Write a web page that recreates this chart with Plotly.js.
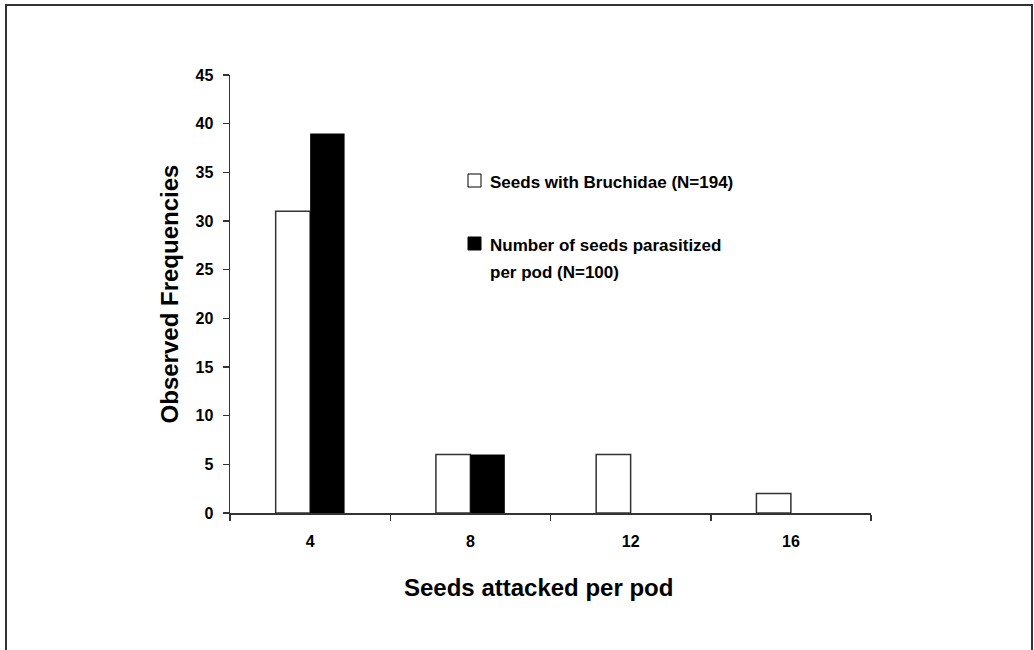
<!DOCTYPE html>
<html>
<head>
<meta charset="utf-8">
<script src="https://cdn.plot.ly/plotly-3.0.1.min.js"></script>
<style>html,body{margin:0;padding:0;background:#fff;}#chart{width:1034px;height:650px;}</style>
</head>
<body>
<div id="chart"></div>
<script>
var categories = ["4", "8", "12", "16"];
var seriesWhiteName = "Seeds with Bruchidae (N=194)";
var seriesWhite = [31, 6, 6, 2];
var seriesBlackNameLines = ["Number of seeds parasitized", "per pod (N=100)"];
var seriesBlack = [39, 6, 0, 0];
var yTicks = [0, 5, 10, 15, 20, 25, 30, 35, 40, 45];
var xTitle = "Seeds attacked per pod";
var yTitle = "Observed Frequencies";

var FONT = "Liberation Sans, Arial, sans-serif";
var LINE = "#333333";

var traces = [
  {type: "bar", x: categories, y: seriesWhite, name: seriesWhiteName,
   marker: {color: "#ffffff", line: {color: LINE, width: 1.5}}},
  {type: "bar", x: categories, y: seriesBlack, name: seriesBlackNameLines.join(" "),
   marker: {color: "#000000", line: {color: "#000000", width: 0}}}
];

// plot area: x 230..871, y 75..513
var W = 1034, H = 650, L = 230, R = 871, T = 75, B = 513;
function px(x){ return (x - L) / (R - L); }
function py(y){ return (B - y) / (B - T); }

var legFont = {family: FONT, size: 17, color: "#000", weight: "bold"};

var layout = {
  width: W, height: H,
  margin: {l: L, r: W - R, t: T, b: H - B, pad: 0},
  paper_bgcolor: "#ffffff", plot_bgcolor: "#ffffff",
  showlegend: false,
  barmode: "group", bargap: 0.57, bargroupgap: 0,
  font: {family: FONT, color: "#000"},
  xaxis: {
    type: "category", range: [-0.5, 3.5], tickson: "boundaries",
    ticks: "outside", ticklen: 6, tickwidth: 1.5, tickcolor: LINE,
    ticklabelstandoff: 13,
    showline: true, linecolor: LINE, linewidth: 1.5, showgrid: false, zeroline: false,
    tickfont: {family: FONT, size: 16, color: "#000", weight: "bold"}
  },
  yaxis: {
    range: [0, 45], tickvals: yTicks, ticktext: yTicks.map(String),
    ticks: "outside", ticklen: 6, tickwidth: 1.5, tickcolor: LINE,
    ticklabelstandoff: 6,
    showline: true, linecolor: LINE, linewidth: 1.5, showgrid: false, zeroline: false,
    tickfont: {family: FONT, size: 16, color: "#000", weight: "bold"},
    title: {text: yTitle, standoff: 10,
            font: {family: FONT, size: 24, color: "#000", weight: "bold"}}
  },
  shapes: [
    {type: "rect", xref: "paper", yref: "paper", x0: px(6), x1: px(1032), y0: py(670), y1: py(5),
     line: {color: "#333", width: 2}, fillcolor: "rgba(0,0,0,0)", layer: "below"},
    {type: "rect", xref: "paper", yref: "paper", x0: px(468), x1: px(481), y0: py(187), y1: py(174),
     line: {color: "#000", width: 1}, fillcolor: "#fff"},
    {type: "rect", xref: "paper", yref: "paper", x0: px(468), x1: px(481), y0: py(250), y1: py(237),
     line: {color: "#000", width: 1}, fillcolor: "#000"}
  ],
  annotations: [
    {xref: "paper", yref: "paper", x: px(538), y: py(587), xanchor: "center", yanchor: "middle",
     text: xTitle, showarrow: false,
     font: {family: FONT, size: 24, color: "#000", weight: "bold"}},
    {xref: "paper", yref: "paper", x: px(488), y: py(182), xanchor: "left", yanchor: "middle",
     text: seriesWhiteName, showarrow: false, align: "left", font: legFont},
    {xref: "paper", yref: "paper", x: px(488), y: py(245), xanchor: "left", yanchor: "middle",
     text: seriesBlackNameLines[0], showarrow: false, align: "left", font: legFont},
    {xref: "paper", yref: "paper", x: px(488), y: py(272), xanchor: "left", yanchor: "middle",
     text: seriesBlackNameLines[1], showarrow: false, align: "left", font: legFont}
  ]
};

Plotly.newPlot("chart", traces, layout, {displayModeBar: false, staticPlot: true});
</script>
</body>
</html>
